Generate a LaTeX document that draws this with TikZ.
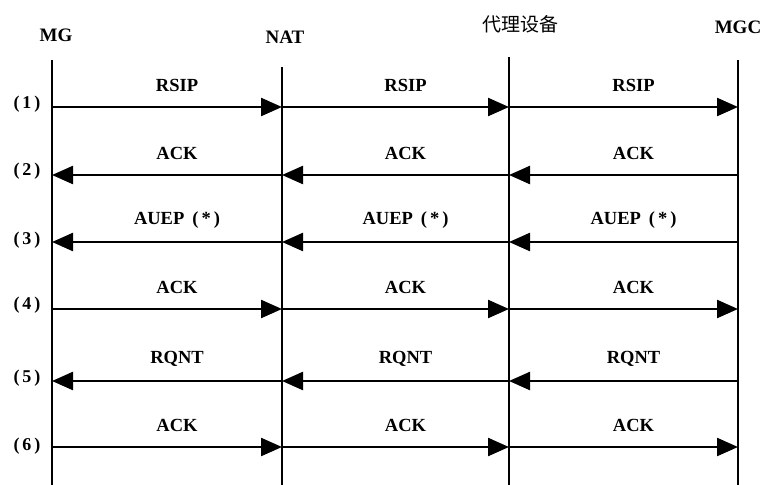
\documentclass[tikz,border=0pt]{standalone}
\usepackage{fontspec}
\setmainfont{Liberation Serif}
\newfontfamily\cjk{Noto Sans CJK SC}
\usetikzlibrary{arrows.meta}
\newcommand{\rowtag}[1]{(\hspace{3pt}#1\hspace{3pt})}
\newcommand{\auep}{AUEP\hspace{8pt}(\hspace{3pt}*\hspace{3pt})}
\begin{document}
\begin{tikzpicture}[x=1pt,y=-1pt,
  life/.style={line width=2pt},
  msg/.style={line width=2.3pt,-{Triangle[length=21pt,width=18pt]}},
  lbl/.style={font=\bfseries\fontsize{18.5}{20}\selectfont, yshift=22pt, xshift=10pt},
  hdr/.style={font=\bfseries\fontsize{19}{22}\selectfont},
  rowlbl/.style={font=\bfseries\fontsize{18}{20}\selectfont}]
\useasboundingbox (0,0) rectangle (764,485);

% headers
\node[hdr] (mg)  at (56,35) {MG};
\node[hdr] (nat) at (285,37) {NAT};
\node[font=\cjk\fontsize{19}{22}\selectfont] (proxy) at (520,24) {代理设备};
\node[hdr] (mgc) at (738,27) {MGC};

% lifelines
\coordinate (mgT) at (52,60);   \coordinate (mgB) at (52,485);
\coordinate (natT) at (282,67); \coordinate (natB) at (282,485);
\coordinate (prT) at (509,57);  \coordinate (prB) at (509,485);
\coordinate (mgcT) at (738,60); \coordinate (mgcB) at (738,485);
\draw[life] (mgT) -- (mgB);
\draw[life] (natT) -- (natB);
\draw[life] (prT) -- (prB);
\draw[life] (mgcT) -- (mgcB);

% rows
\coordinate (r1) at (0,107);
\coordinate (r2) at (0,175);
\coordinate (r3) at (0,242);
\coordinate (r4) at (0,309);
\coordinate (r5) at (0,381);
\coordinate (r6) at (0,447);

\node[rowlbl] (l1) at (27,104) {\rowtag{1}};
\node[rowlbl] (l2) at (27,171) {\rowtag{2}};
\node[rowlbl] (l3) at (27,240) {\rowtag{3}};
\node[rowlbl] (l4) at (27,305) {\rowtag{4}};
\node[rowlbl] (l5) at (27,378) {\rowtag{5}};
\node[rowlbl] (l6) at (27,446) {\rowtag{6}};

% (1) RSIP
\draw[msg] (mgT|-r1) -- node[lbl]{RSIP} (natT|-r1);
\draw[msg] (natT|-r1) -- node[lbl]{RSIP} (prT|-r1);
\draw[msg] (prT|-r1) -- node[lbl]{RSIP} (mgcT|-r1);
% (2) ACK
\draw[msg] (mgcT|-r2) -- node[lbl]{ACK} (prT|-r2);
\draw[msg] (prT|-r2) -- node[lbl]{ACK} (natT|-r2);
\draw[msg] (natT|-r2) -- node[lbl]{ACK} (mgT|-r2);
% (3) AUEP
\draw[msg] (mgcT|-r3) -- node[lbl]{\auep} (prT|-r3);
\draw[msg] (prT|-r3) -- node[lbl]{\auep} (natT|-r3);
\draw[msg] (natT|-r3) -- node[lbl]{\auep} (mgT|-r3);
% (4) ACK
\draw[msg] (mgT|-r4) -- node[lbl]{ACK} (natT|-r4);
\draw[msg] (natT|-r4) -- node[lbl]{ACK} (prT|-r4);
\draw[msg] (prT|-r4) -- node[lbl]{ACK} (mgcT|-r4);
% (5) RQNT
\draw[msg] (mgcT|-r5) -- node[lbl]{RQNT} (prT|-r5);
\draw[msg] (prT|-r5) -- node[lbl]{RQNT} (natT|-r5);
\draw[msg] (natT|-r5) -- node[lbl]{RQNT} (mgT|-r5);
% (6) ACK
\draw[msg] (mgT|-r6) -- node[lbl]{ACK} (natT|-r6);
\draw[msg] (natT|-r6) -- node[lbl]{ACK} (prT|-r6);
\draw[msg] (prT|-r6) -- node[lbl]{ACK} (mgcT|-r6);
\end{tikzpicture}
\end{document}
